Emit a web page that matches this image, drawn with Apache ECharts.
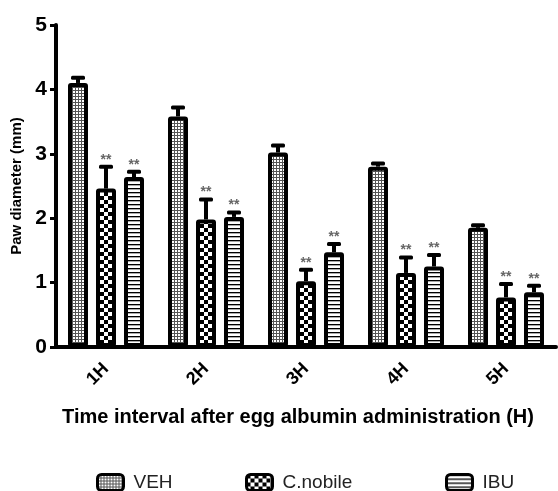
<!DOCTYPE html>
<html>
<head>
<meta charset="utf-8">
<script src="https://cdn.jsdelivr.net/npm/echarts@6/dist/echarts.min.js"></script>
<style>
html,body{margin:0;padding:0;background:#fff;}
#chart{width:558px;height:491px;}
</style>
</head>
<body>
<div id="chart"></div>
<script>
// ---- data ----
var categories = ['1H', '2H', '3H', '4H', '5H'];
var vehMean = [4.10, 3.58, 3.02, 2.80, 1.85];
var vehErr  = [0.08, 0.14, 0.11, 0.05, 0.04];
var cnoMean = [2.46, 1.98, 1.02, 1.15, 0.77];
var cnoErr  = [0.34, 0.31, 0.18, 0.24, 0.21];
var ibuMean = [2.64, 2.02, 1.47, 1.25, 0.85];
var ibuErr  = [0.08, 0.07, 0.13, 0.18, 0.10];
var cnoSig  = ['**', '**', '**', '**', '**'];
var ibuSig  = ['**', '**', '**', '**', '**'];
var vehSig  = ['', '', '', '', ''];
var yTicks  = [0, 1, 2, 3, 4, 5];

var FONT = '"Liberation Sans", Arial, sans-serif';

function makeTile(w, h, draw) {
  var c = document.createElement('canvas');
  c.width = w; c.height = h;
  var ctx = c.getContext('2d');
  ctx.fillStyle = '#fff'; ctx.fillRect(0, 0, w, h);
  ctx.fillStyle = '#000';
  draw(ctx);
  return c;
}
var vehTile = makeTile(3, 3, function (ctx) {
  ctx.fillStyle = '#555'; ctx.fillRect(0, 0, 3, 1); ctx.fillRect(0, 0, 1, 3);
});
var cnoTile = makeTile(8, 8, function (ctx) { ctx.fillRect(0, 0, 4, 4); ctx.fillRect(4, 4, 4, 4); });
var ibuTile = makeTile(1, 4, function (ctx) { ctx.fillRect(0, 0, 1, 1); ctx.fillStyle = '#aaa'; ctx.fillRect(0, 1, 1, 1); });

function pat(tile) { return { image: tile, repeat: 'repeat' }; }

function rows(mean, err, sig) {
  return mean.map(function (m, i) { return [i, m, err[i], sig[i]]; });
}

function errSeries(name, data, offset) {
  return {
    type: 'custom',
    name: name,
    z: 5,
    data: data,
    renderItem: function (params, api) {
      var base = api.coord([api.value(0), api.value(1)]);
      var top = api.coord([api.value(0), api.value(1) + api.value(2)]);
      var x = base[0] + offset;
      var sig = data[params.dataIndex][3];
      var children = [
        { type: 'line', shape: { x1: x, y1: base[1], x2: x, y2: top[1] },
          style: { stroke: '#000', lineWidth: 4 } },
        { type: 'rect', shape: { x: x - 7, y: top[1] - 2, width: 14, height: 4, r: 1.5 },
          style: { fill: '#000' } }
      ];
      if (sig) {
        children.push({ type: 'text', x: x, y: top[1] - 14,
          style: { text: sig, fill: '#666', font: 'bold 14px ' + FONT,
                   textAlign: 'center', textVerticalAlign: 'top' } });
      }
      return { type: 'group', children: children };
    }
  };
}

var barCommon = {
  type: 'bar',
  barWidth: 20,
  barGap: '40%',
  itemStyle: { borderColor: '#000', borderWidth: 4, borderRadius: 1 }
};

var chart = echarts.init(document.getElementById('chart'), null, { renderer: 'canvas' });

function legendAt(name, left) {
  return {
    data: [name], left: left, top: 468, orient: 'horizontal',
    itemWidth: 26, itemHeight: 16, icon: 'roundRect', itemGap: 0,
    textStyle: { fontSize: 19, color: '#222', fontFamily: FONT, padding: [0, 0, 0, 5] },
    itemStyle: { borderColor: '#000', borderWidth: 3 },
    selectedMode: false
  };
}

var option = {
  animation: false,
  backgroundColor: '#fff',
  grid: { left: 56, right: 2, top: 25, bottom: 144, outerBoundsMode: 'none', containLabel: false },
  legend: [legendAt('VEH', 91), legendAt('C.nobile', 240), legendAt('IBU', 440)],
  xAxis: {
    type: 'category',
    data: categories,
    name: 'Time interval after egg albumin administration (H)',
    nameLocation: 'middle',
    nameGap: 60,
    nameTextStyle: { fontSize: 20, fontWeight: 'bold', color: '#000', fontFamily: FONT, padding: [0, 16, 0, 0] },
    axisLine: { lineStyle: { color: '#000', width: 4 } },
    axisTick: { alignWithLabel: true, length: 7, lineStyle: { color: '#000', width: 4 } },
    axisLabel: { rotate: 45, fontSize: 18, fontWeight: 'bold', color: '#000', fontFamily: FONT, margin: 19 },
    splitLine: { show: false }
  },
  yAxis: {
    type: 'value',
    min: yTicks[0],
    max: yTicks[yTicks.length - 1],
    interval: 1,
    name: 'Paw diameter (mm)',
    nameLocation: 'middle',
    nameGap: 31,
    nameTextStyle: { fontSize: 15, fontWeight: 'bold', color: '#000', fontFamily: FONT },
    axisLine: { show: true, lineStyle: { color: '#000', width: 4 } },
    axisTick: { show: true, length: 6, lineStyle: { color: '#000', width: 3 } },
    axisLabel: { fontSize: 21, fontWeight: 'bold', color: '#000', fontFamily: FONT, margin: 9 },
    splitLine: { show: false }
  },
  series: [
    Object.assign({}, barCommon, { name: 'VEH', data: vehMean, itemStyle: Object.assign({}, barCommon.itemStyle, { color: pat(vehTile) }) }),
    Object.assign({}, barCommon, { name: 'C.nobile', data: cnoMean, itemStyle: Object.assign({}, barCommon.itemStyle, { color: pat(cnoTile) }) }),
    Object.assign({}, barCommon, { name: 'IBU', data: ibuMean, itemStyle: Object.assign({}, barCommon.itemStyle, { color: pat(ibuTile) }) }),
    errSeries('errVEH', rows(vehMean, vehErr, vehSig), -28),
    errSeries('errCNO', rows(cnoMean, cnoErr, cnoSig), 0),
    errSeries('errIBU', rows(ibuMean, ibuErr, ibuSig), 28)
  ]
};
chart.setOption(option);
</script>
</body>
</html>
